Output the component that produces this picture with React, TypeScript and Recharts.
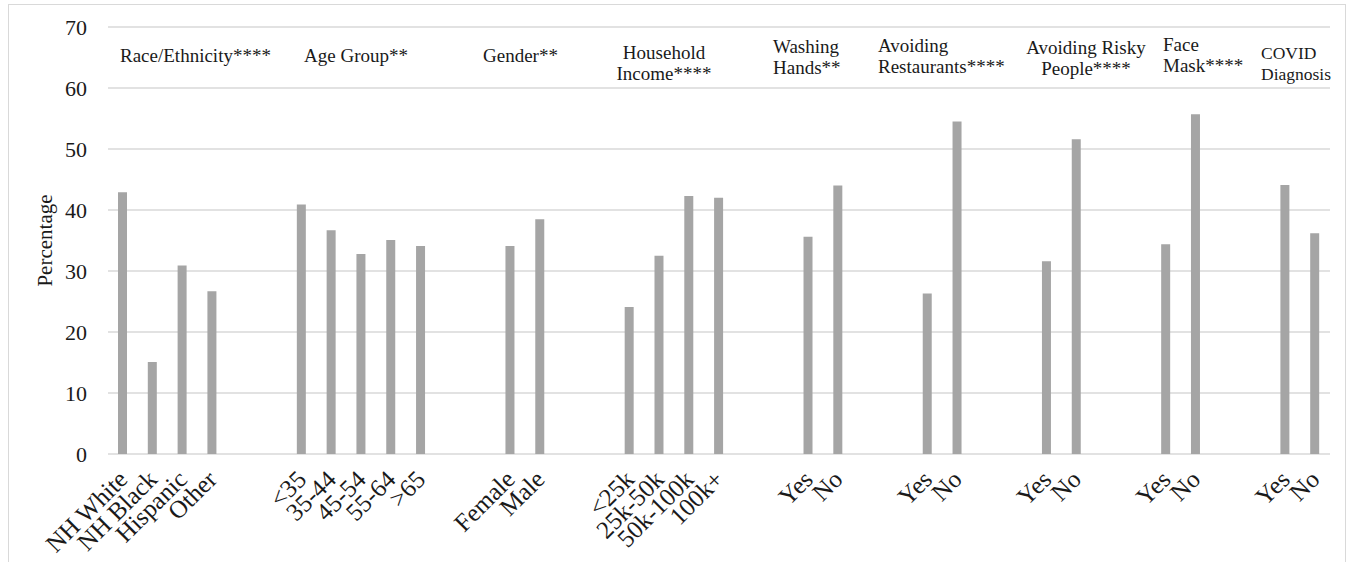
import { BarChart, Bar, XAxis, YAxis, CartesianGrid } from "recharts";

// one slot per bar; empty names are the spacer slots between groups
const CATEGORIES = [
  "NH White", "NH Black", "Hispanic", "Other", "", "",
  "<35", "35-44", "45-54", "55-64", ">65", "", "",
  "Female", "Male", "", "",
  "<25k", "25k-50k", "50k-100k", "100k+", "", "",
  "Yes", "No", "", "",
  "Yes", "No", "", "",
  "Yes", "No", "", "",
  "Yes", "No", "", "",
  "Yes", "No",
];

const PERCENTAGES: (number | null)[] = [
  42.9, 15.1, 30.9, 26.7, null, null,
  40.9, 36.7, 32.8, 35.1, 34.1, null, null,
  34.1, 38.5, null, null,
  24.1, 32.5, 42.3, 42.0, null, null,
  35.6, 44.0, null, null,
  26.3, 54.5, null, null,
  31.6, 51.6, null, null,
  34.4, 55.7, null, null,
  44.1, 36.2,
];

const Y_TICKS = [0, 10, 20, 30, 40, 50, 60, 70];

const GROUP_TITLES = [
  ["Race/Ethnicity****"],
  ["Age Group**"],
  ["Gender**"],
  ["Household", "Income****"],
  ["Washing", "Hands**"],
  ["Avoiding", "Restaurants****"],
  ["Avoiding Risky", "People****"],
  ["Face", "Mask****"],
  ["COVID", "Diagnosis"],
];

// where each title box sits (x, first baseline, anchor, font size)
const TITLE_LAYOUT = [
  { x: 120, y: 62, anchor: "start", size: 19 },
  { x: 304, y: 62, anchor: "start", size: 19 },
  { x: 483, y: 62, anchor: "start", size: 19 },
  { x: 664, y: 59, anchor: "middle", size: 19 },
  { x: 773, y: 53, anchor: "start", size: 19 },
  { x: 878, y: 52, anchor: "start", size: 19 },
  { x: 1086, y: 54, anchor: "middle", size: 19 },
  { x: 1163, y: 51, anchor: "start", size: 19 },
  { x: 1261, y: 59, anchor: "start", size: 17.5 },
];

const data = CATEGORIES.map((name, i) => ({ name, value: PERCENTAGES[i] }));

const FONT = "'Liberation Serif', 'Times New Roman', serif";
const TEXT_COLOR = "#1a1a1a";

function CategoryTick(props: any) {
  const { x, y, payload } = props;
  if (!payload.value) return null;
  const ax = x + 6;
  const ay = y + 27;
  return (
    <text
      x={ax}
      y={ay}
      transform={`rotate(-45 ${ax} ${ay})`}
      textAnchor="end"
      fontFamily={FONT}
      fontSize={25}
      fill={TEXT_COLOR}
    >
      {payload.value}
    </text>
  );
}

export default function App() {
  return (
    <div
      style={{
        position: "absolute",
        left: 0,
        top: 0,
        width: 1354,
        height: 562,
        overflow: "hidden",
        background: "#fff",
      }}
    >
      {/* outer frame */}
      <div
        style={{
          position: "absolute",
          left: 8,
          top: 4,
          width: 1336,
          height: 640,
          border: "1px solid #d9d9d9",
        }}
      />

      <div style={{ position: "absolute", left: 0, top: 0 }}>
        <BarChart
          width={1354}
          height={562}
          data={data}
          margin={{ top: 27, right: 24, left: 0, bottom: 0 }}
        >
          <CartesianGrid vertical={false} stroke="#d9d9d9" strokeWidth={1.3} />
          <XAxis
            dataKey="name"
            interval={0}
            height={108}
            axisLine={false}
            tickLine={false}
            tickSize={0}
            tickMargin={0}
            tick={<CategoryTick />}
          />
          <YAxis
            domain={[0, 70]}
            ticks={Y_TICKS}
            width={108}
            axisLine={false}
            tickLine={false}
            tickSize={0}
            tickMargin={21}
            tick={{ fontFamily: FONT, fontSize: 22, fill: TEXT_COLOR }}
            label={{
              value: "Percentage",
              angle: -90,
              position: "center",
              dx: -9,
              style: { fontFamily: FONT, fontSize: 21, fill: TEXT_COLOR },
            }}
          />
          <Bar
            dataKey="value"
            fill="#a5a5a5"
            barSize={9}
            isAnimationActive={false}
          />
        </BarChart>
      </div>

      {/* group titles */}
      <svg
        width={1354}
        height={562}
        style={{ position: "absolute", left: 0, top: 0, pointerEvents: "none" }}
      >
        {GROUP_TITLES.map((lines, i) => {
          const l = TITLE_LAYOUT[i];
          return (
            <text
              key={i}
              x={l.x}
              y={l.y}
              textAnchor={l.anchor}
              fontFamily={FONT}
              fontSize={l.size}
              fill={TEXT_COLOR}
            >
              {lines.map((line, j) => (
                <tspan key={j} x={l.x} dy={j === 0 ? 0 : 20.5}>
                  {line}
                </tspan>
              ))}
            </text>
          );
        })}
      </svg>
    </div>
  );
}
